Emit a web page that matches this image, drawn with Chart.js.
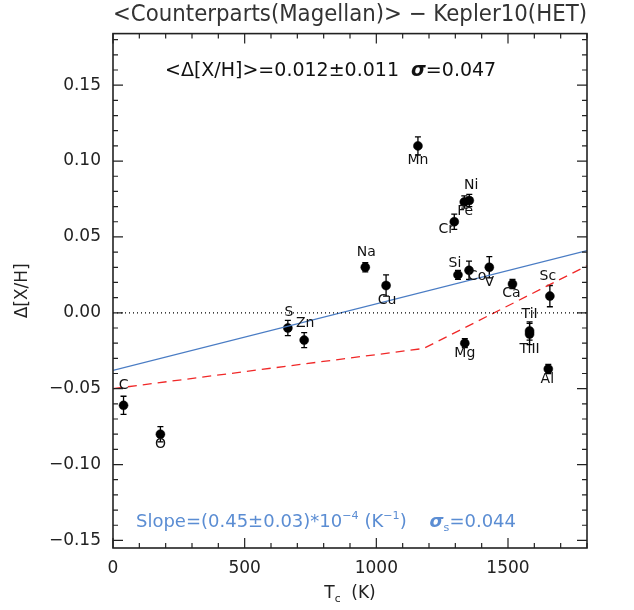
<!DOCTYPE html>
<html><head><meta charset="utf-8">
<script src="https://cdn.jsdelivr.net/npm/chart.js@4.4.1/dist/chart.umd.min.js"></script>
<style>html,body{margin:0;padding:0;background:#fff;}#wrap{width:634px;height:610px;}</style>
</head><body><div id="wrap"><canvas id="c" width="634" height="610"></canvas></div>
<script>
// ---- data ----
const elements = ['C','O','S','Zn','Na','Cu','Mn','Cr','Si','Fe','Mg','Co','Ni','V','Ca','TiI','TiII','Al','Sc'];
const tcK      = [40,180,664,726,958,1037,1158,1296,1310,1334,1336,1352,1353,1429,1517,1582,1582,1653,1659];
const deltaXH  = [-0.061,-0.080,-0.010,-0.018,0.030,0.018,0.110,0.060,0.025,0.073,-0.020,0.028,0.074,0.030,0.019,-0.012,-0.014,-0.037,0.011];
const errXH    = [0.006,0.005,0.005,0.005,0.003,0.007,0.006,0.005,0.003,0.004,0.003,0.006,0.004,0.007,0.003,0.006,0.007,0.003,0.007];
const fitTc    = [0,1800];
const fitDXH   = [-0.038,0.041];
const gceTc    = [0,1180,1800];
const gceDXH   = [-0.050,-0.0235,0.031];
const zeroTc   = [0,1800];
const zeroDXH  = [0,0];
const xTickValues = [0,500,1000,1500];
const xTickLabels = ['0','500','1000','1500'];
const yTickValues = [-0.15,-0.10,-0.05,0.00,0.05,0.10,0.15];
const yTickLabels = ['\u22120.15','\u22120.10','\u22120.05','0.00','0.05','0.10','0.15'];
const titleText = '<Counterparts(Magellan)> \u2212 Kepler10(HET)';
// label offsets (style)
const labelOffsets = [[0,-20],[0,10],[1,-16],[1,-17],[1,-15],[1,15],[0,14],[-8,8],[-3,-12],[1,9],[0,10],[8,6],[2,-15],[0,15],[-1,9],[0,-17],[0,15],[-1,10],[-2,-20]];

const FAM = '"DejaVu Sans", sans-serif';
const BLUE = '#4a7cc4';
const BLUE_TXT = '#5b8dd3';

function pts(xs, ys){ return xs.map((x,i)=>({x:x, y:ys[i]})); }

function drawRich(ctx, segs, x, y, size, color){
  let cx = x;
  ctx.fillStyle = color; ctx.textBaseline = 'alphabetic'; ctx.textAlign = 'left';
  for (const s of segs){
    const sz = (s.sub||s.sup) ? size*0.62 : size;
    ctx.font = (s.style||'') + ' ' + sz + 'px ' + FAM;
    const dy = s.sup ? -size*0.42 : (s.sub ? size*0.22 : 0);
    ctx.fillText(s.t, cx, y+dy);
    cx += ctx.measureText(s.t).width;
  }
}

const decor = {
  id:'decor',
  beforeDatasetsDraw(chart){
    const ctx = chart.ctx, xs = chart.scales.x, ys = chart.scales.y;
    ctx.save();
    ctx.strokeStyle = '#000'; ctx.lineWidth = 1.3;
    for (let i=0;i<tcK.length;i++){
      const px = xs.getPixelForValue(tcK[i]);
      const p1 = ys.getPixelForValue(deltaXH[i]-errXH[i]);
      const p2 = ys.getPixelForValue(deltaXH[i]+errXH[i]);
      ctx.beginPath();
      ctx.moveTo(px,p1); ctx.lineTo(px,p2);
      ctx.moveTo(px-3,p1); ctx.lineTo(px+3,p1);
      ctx.moveTo(px-3,p2); ctx.lineTo(px+3,p2);
      ctx.stroke();
    }
    ctx.restore();
  },
  afterDraw(chart){
    const ctx = chart.ctx, xs = chart.scales.x, ys = chart.scales.y, a = chart.chartArea;
    ctx.save();
    // frame
    ctx.strokeStyle = '#222'; ctx.lineWidth = 1.6;
    ctx.strokeRect(a.left, a.top, a.right-a.left, a.bottom-a.top);
    ctx.lineWidth = 1.2;
    ctx.beginPath();
    for (let v=0; v<=1800; v+=100){
      const px = xs.getPixelForValue(v);
      const L = (v%500===0) ? 10 : 5;
      ctx.moveTo(px,a.bottom); ctx.lineTo(px,a.bottom-L);
      ctx.moveTo(px,a.top); ctx.lineTo(px,a.top+L);
    }
    for (let k=-15; k<=18; k++){
      const v = k/100;
      const py = ys.getPixelForValue(v);
      const L = (k%5===0) ? 10 : 5;
      ctx.moveTo(a.left,py); ctx.lineTo(a.left+L,py);
      ctx.moveTo(a.right,py); ctx.lineTo(a.right-L,py);
    }
    ctx.stroke();
    // element labels
    ctx.fillStyle = '#111'; ctx.font = '14px ' + FAM;
    ctx.textAlign = 'center'; ctx.textBaseline = 'middle';
    for (let i=0;i<elements.length;i++){
      const px = xs.getPixelForValue(tcK[i]) + labelOffsets[i][0];
      const py = ys.getPixelForValue(deltaXH[i]) + labelOffsets[i][1];
      ctx.fillText(elements[i], px, py);
    }
    // annotations
    drawRich(ctx, [{t:'<\u0394[X/H]>=0.012\u00b10.011  '},{t:'\u03c3', style:'italic bold'},{t:'=0.047'}], 165, 76, 19, '#111');
    drawRich(ctx, [{t:'Slope=(0.45\u00b10.03)*10'},{t:'\u22124',sup:true},{t:' (K'},{t:'\u22121',sup:true},{t:')    '},{t:'\u03c3',style:'italic bold'},{t:'s',sub:true},{t:'=0.044'}], 136, 527, 18, BLUE_TXT);
    // x axis title
    const cx = (a.left+a.right)/2;
    ctx.font = '17px ' + FAM;
    const w1 = ctx.measureText('T').width;
    ctx.font = '10.54px ' + FAM;
    const w2 = ctx.measureText('c').width;
    ctx.font = '17px ' + FAM;
    const w3 = ctx.measureText('  (K)').width;
    drawRich(ctx, [{t:'T'},{t:'c',sub:true},{t:'  (K)'}], cx-(w1+w2+w3)/2, 598, 17, '#222');
    ctx.restore();
  }
};

new Chart(document.getElementById('c'), {
  type:'scatter',
  data:{datasets:[
    {label:'zero', data:pts(zeroTc,zeroDXH), showLine:true, pointRadius:0, borderColor:'#000', borderWidth:1.2, borderDash:[1,3]},
    {label:'fit', data:pts(fitTc,fitDXH), showLine:true, pointRadius:0, borderColor:BLUE, borderWidth:1.3},
    {label:'GCE', data:pts(gceTc,gceDXH), showLine:true, pointRadius:0, borderColor:'#f02828', borderWidth:1.3, borderDash:[9,6]},
    {label:'\u0394[X/H]', data:pts(tcK,deltaXH), pointRadius:4.5, pointBorderWidth:0.5, backgroundColor:'#000', borderColor:'#000'}
  ]},
  options:{
    responsive:false, animation:false,
    layout:{padding:{left:0,right:47,top:0,bottom:0}},
    plugins:{
      legend:{display:false}, tooltip:{enabled:false},
      title:{display:true, fullSize:false, text:titleText, color:'#333', font:{family:FAM, size:23, weight:'normal'}, padding:{top:1,bottom:5}}
    },
    scales:{
      x:{type:'linear', min:0, max:1800,
        afterBuildTicks:s=>{ s.ticks = xTickValues.map(v=>({value:v})); },
        afterFit:s=>{ s.height = 62; },
        ticks:{callback:(v,i)=>xTickLabels[i], color:'#222', font:{family:FAM,size:17}, padding:10, maxRotation:0, autoSkip:false},
        grid:{display:false, drawTicks:false}, border:{display:false}},
      y:{type:'linear', min:-0.155, max:0.184,
        afterBuildTicks:s=>{ s.ticks = yTickValues.map(v=>({value:v})); },
        afterFit:s=>{ s.width = 113; },
        ticks:{callback:(v,i)=>yTickLabels[i], color:'#222', font:{family:FAM,size:17}, padding:12, autoSkip:false},
        title:{display:true, text:'\u0394[X/H]', color:'#222', font:{family:FAM,size:17}, padding:{top:12,bottom:0}},
        grid:{display:false, drawTicks:false}, border:{display:false}}
    }
  },
  plugins:[decor]
});
</script></body></html>
